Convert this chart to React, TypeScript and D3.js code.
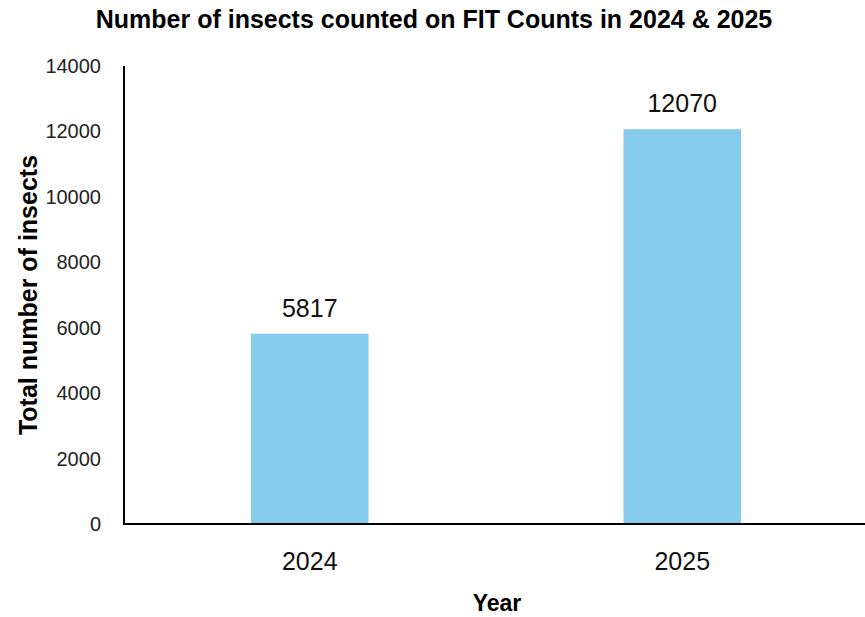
import React from "react";
import * as d3 from "d3";

const years = ["2024", "2025"];
const counts = [5817, 12070];
const yTicks = [0, 2000, 4000, 6000, 8000, 10000, 12000, 14000];

const W = 865;
const H = 617;
const left = 124;
const right = 865;
const top = 66;
const bottom = 524;

export default function App() {
  const x = d3.scaleBand<string>().domain(years).range([left, 868]).paddingInner(0.6846).paddingOuter(0.341);
  const y = d3.scaleLinear().domain([0, 14000]).range([bottom, top]);
  const font = "Liberation Sans, Arial, sans-serif";
  const narrow = "'Liberation Sans Narrow', 'Arial Narrow', sans-serif";
  return (
    <svg width={W} height={H} style={{ position: "absolute", left: 0, top: 0, background: "#fff" }}>
      <text x={434} y={28} textAnchor="middle" fontFamily={narrow} fontWeight="bold" fontSize={25} fill="#000" style={{ fontStretch: "condensed" }}>
        Number of insects counted on FIT Counts in 2024 &amp; 2025
      </text>
      {yTicks.map((t) => (
        <text key={t} x={101} y={y(t)} dy="0.35em" textAnchor="end" fontFamily={font} fontSize={20} fill="#222">
          {t}
        </text>
      ))}
      {years.map((yr, i) => (
        <g key={yr}>
          <rect x={x(yr)} y={y(counts[i])} width={x.bandwidth()} height={bottom - y(counts[i])} fill="#85CBEB" />
          <text x={(x(yr) as number) + x.bandwidth() / 2} y={y(counts[i]) - 17} textAnchor="middle" fontFamily={font} fontSize={25} fill="#111">
            {counts[i]}
          </text>
          <text x={(x(yr) as number) + x.bandwidth() / 2} y={bottom + 46} textAnchor="middle" fontFamily={font} fontSize={25} fill="#111">
            {yr}
          </text>
        </g>
      ))}
      <line x1={left} x2={left} y1={top} y2={bottom + 1} stroke="#000" strokeWidth={2} />
      <line x1={left - 1} x2={right} y1={bottom} y2={bottom} stroke="#000" strokeWidth={2} />
      <text transform={`translate(37,${295}) rotate(-90)`} textAnchor="middle" fontFamily={font} fontWeight="bold" fontSize={25} fill="#000">
        Total number of insects
      </text>
      <text x={497} y={611} textAnchor="middle" fontFamily={font} fontWeight="bold" fontSize={23} fill="#000">
        Year
      </text>
    </svg>
  );
}
